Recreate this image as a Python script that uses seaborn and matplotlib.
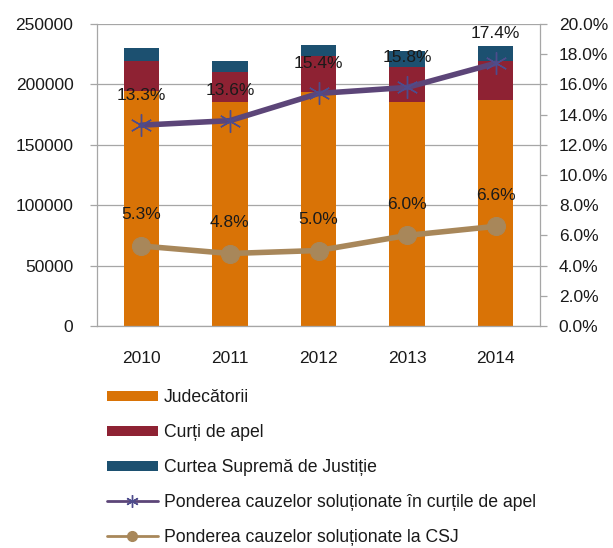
import numpy as np
import pandas as pd
import matplotlib
matplotlib.use("Agg")
import matplotlib.pyplot as plt
import seaborn as sns
from matplotlib.patches import Patch
from matplotlib.lines import Line2D

years = ["2010", "2011", "2012", "2013", "2014"]
judecatorii = [194600, 185700, 194000, 185700, 187000]
curti_apel = [24800, 24300, 29800, 29000, 32400]
csj = [10700, 9400, 9200, 13200, 12600]
pct_curti = [13.3, 13.6, 15.4, 15.8, 17.4]
pct_csj = [5.3, 4.8, 5.0, 6.0, 6.6]

labels = ["Judecătorii", "Curți de apel", "Curtea Supremă de Justiție",
          "Ponderea cauzelor soluționate în curțile de apel",
          "Ponderea cauzelor soluționate la CSJ"]

c_jud = "#D97306"
c_cur = "#8E2233"
c_csj = "#1C5070"
c_line1 = "#5C4578"
c_mark1 = "#4E4C8C"
c_line2 = "#A8875A"
grid_c = "#A6A6A6"
txt_c = "#1A1A1A"

sns.set_style("white")
plt.rcParams["font.family"] = ["Liberation Sans", "DejaVu Sans"]
FS = 12.5
LFS = 12.7

df = pd.DataFrame({"year": years, "jud": judecatorii, "cur": curti_apel, "csj": csj})
df["lvl2"] = df["jud"] + df["cur"]
df["lvl3"] = df["lvl2"] + df["csj"]

fig = plt.figure(figsize=(6.13, 5.48), dpi=100)
ax = fig.add_axes([97/613, 1-326/548, (540-97)/613, (326-24)/548])

ax.yaxis.grid(True, color=grid_c, linewidth=0.9, zorder=0)
ax.set_axisbelow(True)

sns.barplot(data=df, x="year", y="lvl3", color=c_csj, width=0.4, ax=ax,
            saturation=1, linewidth=0, zorder=2)
sns.barplot(data=df, x="year", y="lvl2", color=c_cur, width=0.4, ax=ax,
            saturation=1, linewidth=0, zorder=2)
sns.barplot(data=df, x="year", y="jud", color=c_jud, width=0.4, ax=ax,
            saturation=1, linewidth=0, zorder=2)

ax.set_ylim(0, 250000)
ax.set_yticks(np.arange(0, 250001, 50000))
ax.set_xlim(-0.5, 4.5)
ax.set_xlabel("")
ax.set_ylabel("")
ax.set_xticks(np.arange(5))
ax.set_xticklabels(years)
ax.set_xticks(np.arange(-0.5, 4.6, 1), minor=True)
ax.tick_params(axis="x", which="major", length=0, pad=18, labelsize=FS, labelcolor=txt_c)
ax.tick_params(axis="x", which="minor", length=5, width=0.9, color=grid_c, direction="out")
ax.tick_params(axis="y", length=5, width=0.9, color=grid_c, direction="out", pad=12,
               labelsize=FS, labelcolor=txt_c, left=True)

for s in ["top", "right"]:
    ax.spines[s].set_visible(False)
for s in ["left", "bottom"]:
    ax.spines[s].set_color(grid_c)
    ax.spines[s].set_linewidth(0.9)

ax2 = ax.twinx()
x_pos = np.arange(len(years))
sns.lineplot(x=x_pos, y=pct_curti, ax=ax2, color=c_line1, linewidth=4,
             marker=(6, 2, 0), markersize=16, markeredgecolor=c_mark1,
             markeredgewidth=1.0, zorder=5)
sns.lineplot(x=x_pos, y=pct_csj, ax=ax2, color=c_line2, linewidth=4,
             marker="o", markersize=13, markerfacecolor=c_line2,
             markeredgecolor=c_line2, zorder=5)

ax2.set_ylim(0, 20)
ax2.set_yticks(np.arange(0, 20.1, 2))
ax2.set_yticklabels([f"{v:.1f}%" for v in np.arange(0, 20.1, 2)])
ax2.set_xlim(-0.5, 4.5)
ax2.set_ylabel("")
ax2.grid(False)
ax2.tick_params(axis="y", length=5, width=0.9, color=grid_c, direction="out", pad=8.5,
                labelsize=FS, labelcolor=txt_c, right=True)
for s in ["top", "left", "bottom"]:
    ax2.spines[s].set_visible(False)
ax2.spines["right"].set_color(grid_c)
ax2.spines["right"].set_linewidth(0.9)

for xi, v in zip(x_pos, pct_curti):
    ax2.annotate(f"{v:.1f}%", (xi, v), xytext=(0, 21.5), textcoords="offset points",
                 ha="center", va="center", fontsize=FS, color=txt_c, zorder=6)
for xi, v in zip(x_pos, pct_csj):
    ax2.annotate(f"{v:.1f}%", (xi, v), xytext=(0, 22.5), textcoords="offset points",
                 ha="center", va="center", fontsize=FS, color=txt_c, zorder=6)

handles = [
    Patch(facecolor=c_jud, edgecolor="none"),
    Patch(facecolor=c_cur, edgecolor="none"),
    Patch(facecolor=c_csj, edgecolor="none"),
    Line2D([], [], color=c_line1, linewidth=2, marker=(6, 2, 0), markersize=9,
           markeredgecolor=c_mark1, markeredgewidth=1.0),
    Line2D([], [], color=c_line2, linewidth=2, marker="o", markersize=7,
           markerfacecolor=c_line2, markeredgecolor=c_line2),
]
fig.legend(handles, labels, loc="upper left", bbox_to_anchor=(107/613, 1-389/548),
           frameon=False, fontsize=LFS, handlelength=2.89, handleheight=0.5,
           handletextpad=0.33, labelspacing=1.02, borderpad=0, borderaxespad=0,
           labelcolor=txt_c)

fig.savefig("out.png", dpi=100)
